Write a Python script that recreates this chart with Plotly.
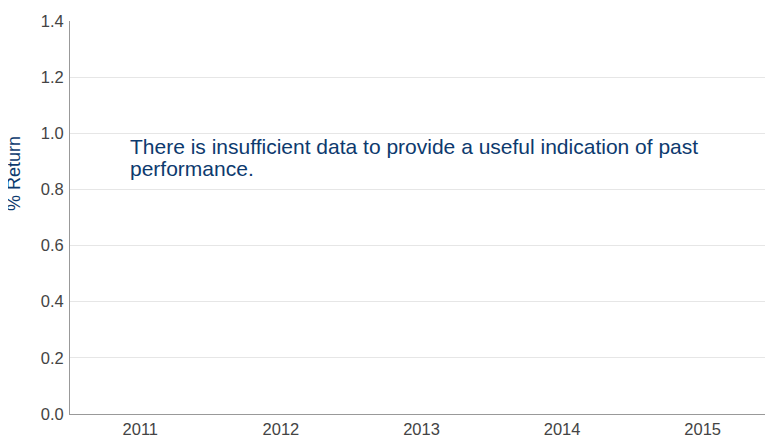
import plotly.graph_objects as go

categories = ["2011", "2012", "2013", "2014", "2015"]
returns = [None, None, None, None, None]
y_ticks = [0.0, 0.2, 0.4, 0.6, 0.8, 1.0, 1.2, 1.4]
y_title = "% Return"
message_lines = [
    "There is insufficient data to provide a useful indication of past",
    "performance.",
]
message_y = [0.954, 0.875]

W, H = 765, 427
L, R, T, B = 62, 0, 13, 21
plot_w = W - L - R
plot_h = H - T - B

fig = go.Figure()
fig.add_trace(go.Bar(x=categories, y=returns, marker_color="#0d3a6e", showlegend=False))

annotations = []
for line, yv in zip(message_lines, message_y):
    annotations.append(dict(
        text=line, xref="paper", yref="y", x=(120 - 62) / plot_w, y=yv,
        xanchor="left", yanchor="middle", align="left", showarrow=False,
        font=dict(size=21, color="#0d3a6e", family="Liberation Sans, Arial, sans-serif"),
    ))
annotations.append(dict(
    text=y_title, xref="paper", yref="paper",
    x=(6 - L) / plot_w, y=1 - (166 - T) / plot_h,
    xanchor="center", yanchor="middle", textangle=-90, showarrow=False,
    font=dict(size=18, color="#0d3a6e", family="Liberation Sans, Arial, sans-serif"),
))

fig.update_layout(
    width=W, height=H,
    margin=dict(l=L, r=R, t=T, b=B, autoexpand=False),
    paper_bgcolor="white", plot_bgcolor="white",
    font=dict(family="Liberation Sans, Arial, sans-serif", size=16, color="#444444"),
    annotations=annotations,
)
fig.update_xaxes(
    type="category", categoryorder="array", categoryarray=categories,
    showline=True, linecolor="#999999", linewidth=1, showgrid=False,
    ticks="", tickfont=dict(size=16.5, color="#444444"), automargin=False,
)
fig.update_yaxes(
    range=[0, 1.4], tickvals=y_ticks, tickformat=".1f",
    showline=True, linecolor="#999999", linewidth=1,
    showgrid=True, gridcolor="#e6e6e6", zeroline=False,
    ticks="", automargin=False, ticklabelstandoff=2,
    tickfont=dict(size=16.5, color="#444444"),
)
fig.write_html("out.html")
